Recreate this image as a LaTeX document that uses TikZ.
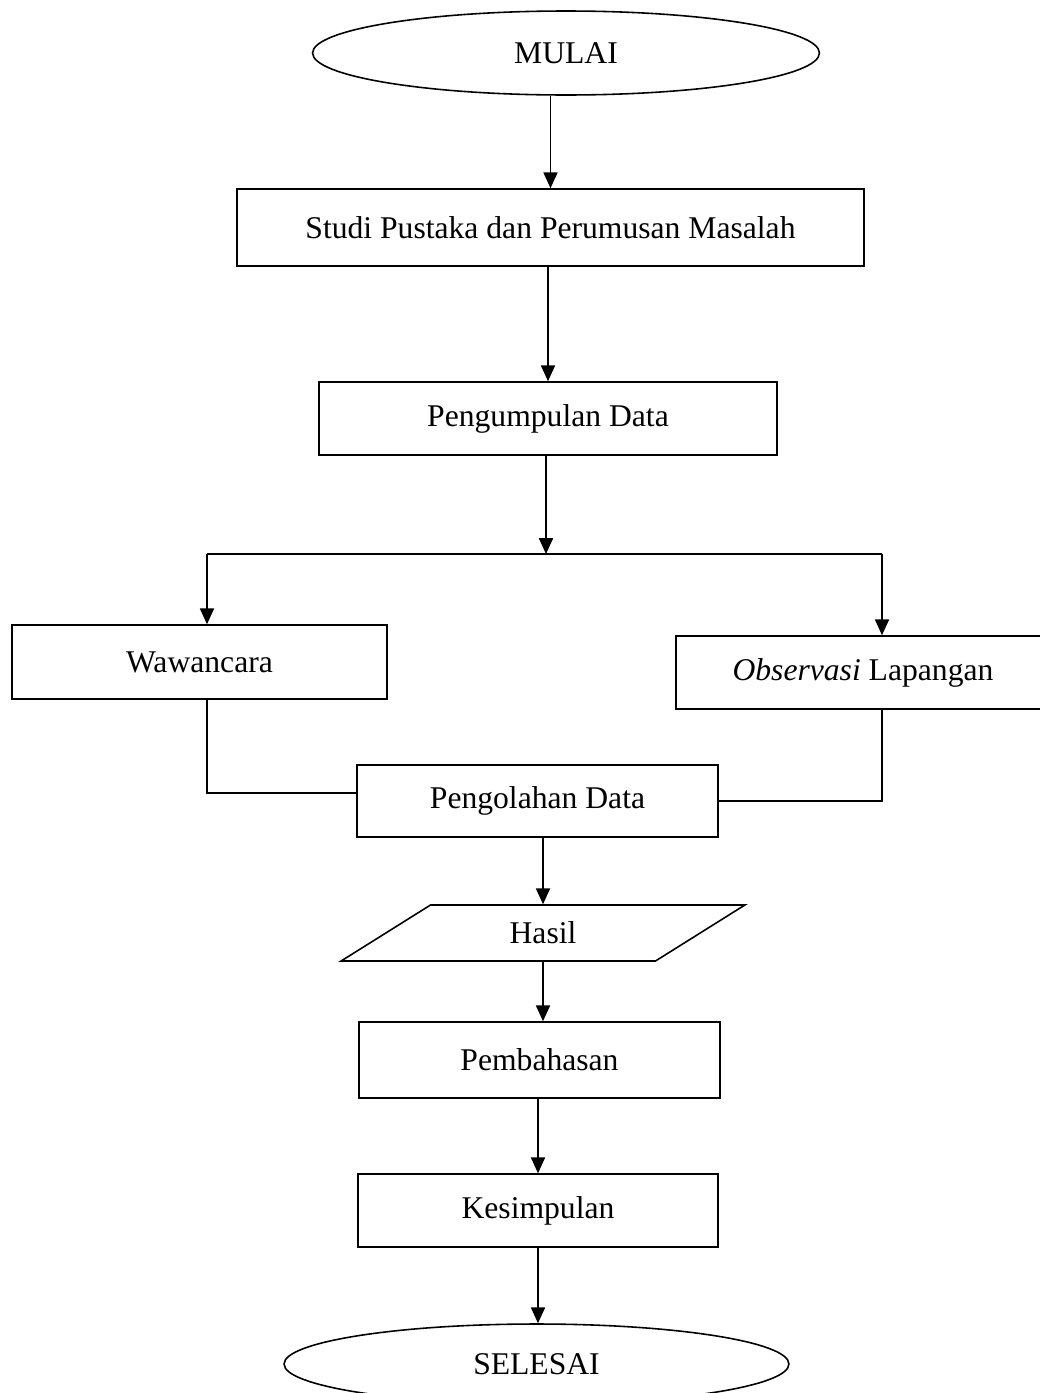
\documentclass[tikz,border=0pt]{standalone}
\usepackage{fontspec}
\setmainfont{Liberation Serif}
\usetikzlibrary{positioning,arrows.meta,shapes.geometric}

\begin{document}
\begin{tikzpicture}[
  x=0.02cm, y=-0.02cm,
  font=\fontsize{18}{22}\selectfont,
  box/.style={draw,line width=0.9pt,align=center,inner sep=2pt},
  term/.style={draw,ellipse,line width=0.9pt,inner sep=0pt},
  io/.style={draw,trapezium,trapezium left angle=40,trapezium right angle=140,
             trapezium stretches=true,line width=0.9pt,inner sep=0pt},
  arr/.style={-{Triangle[length=9pt,width=8pt]},line width=0.9pt},
  line/.style={line width=0.9pt},
]
  \useasboundingbox (0,0) rectangle (1040,1393);
  \clip (0,0) rectangle (1040,1393);
  % nodes
  \node[term,minimum width=10.14cm,minimum height=1.68cm] (mulai) at (566,53) {MULAI};
  \node[box,minimum width=12.54cm,minimum height=1.54cm] (studi) at (550.5,227.5) {Studi Pustaka dan Perumusan Masalah};
  \node[box,minimum width=9.16cm,minimum height=1.46cm] (kumpul) at (548,418.5) {Pengumpulan Data};
  \node[box,minimum width=7.5cm,minimum height=1.48cm] (wawan) at (199.5,662) {Wawancara};
  \node[box,minimum width=7.48cm,minimum height=1.46cm] (obs) at (863,672.5) {\textit{Observasi} Lapangan};
  \node[box,minimum width=7.22cm,minimum height=1.44cm] (olah) at (537.5,801) {Pengolahan Data};
  \node[io,minimum width=8.12cm,minimum height=1.12cm] (hasil) at (543,933) {Hasil};
  \node[box,minimum width=7.22cm,minimum height=1.52cm] (bahas) at (539.5,1060) {Pembahasan};
  \node[box,minimum width=7.2cm,minimum height=1.46cm] (simpul) at (538,1210.5) {Kesimpulan};
  \node[term,minimum width=10.1cm,minimum height=1.6cm] (selesai) at (536.5,1364) {SELESAI};
  % branch points
  \coordinate (split) at (546,554);
  \coordinate (jl) at (207,554);
  \coordinate (jr) at (882,554);
  % connectors
  \draw[arr] (mulai.south -| studi.north) -- (studi.north);
  \draw[arr] (studi.south -| kumpul.north) -- (kumpul.north);
  \draw[arr] (kumpul.south -| split) -- (split);
  \draw[line] (jl) -- (jr);
  \draw[arr] (jl) -- (jl |- wawan.north);
  \draw[arr] (jr) -- (jr |- obs.north);
  \draw[line] (wawan.south -| jl) |- ([yshift=0.16cm]olah.west);
  \draw[line] (obs.south -| jr) |- (olah.east);
  \draw[arr] (olah.south -| hasil.north) -- (hasil.north);
  \draw[arr] (hasil.south) -- (hasil.south |- bahas.north);
  \draw[arr] (bahas.south -| simpul.north) -- (simpul.north);
  \draw[arr] (simpul.south) -- (simpul.south |- selesai.north);
\end{tikzpicture}
\end{document}
